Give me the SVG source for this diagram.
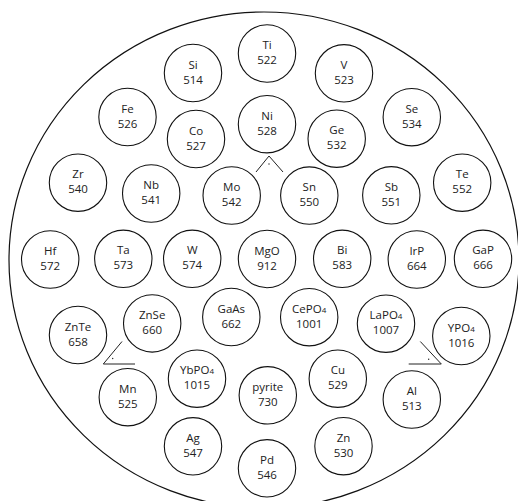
<svg xmlns="http://www.w3.org/2000/svg" width="518" height="501" viewBox="0 0 518 501">
<style>
.bg{fill:#fff}
.outer{fill:none;stroke:#111;stroke-width:1.2}
.n circle{fill:#fff;stroke:#111;stroke-width:1.1}
.n text{font-family:"Open Sans","Noto Sans","Liberation Sans",sans-serif;font-size:11.5px;fill:#222;text-anchor:middle}
.s{font-size:8px}
.mk{fill:none;stroke:#222;stroke-width:1}
.dot{fill:#222}
</style>
<rect class="bg" x="0" y="0" width="518" height="501"/>
<ellipse class="outer" cx="264" cy="260" rx="255" ry="248"/>
<g id="nodes">
<g id="Ti" class="n"><circle cx="267" cy="53.5" r="28.7"/><text x="267" y="49">Ti</text><text x="267" y="64">522</text></g>
<g id="Si" class="n"><circle cx="193" cy="73" r="28.7"/><text x="193" y="68.5">Si</text><text x="193" y="83.5">514</text></g>
<g id="V" class="n"><circle cx="344" cy="73.3" r="28.7"/><text x="344" y="69">V</text><text x="344" y="84">523</text></g>
<g id="Fe" class="n"><circle cx="127.5" cy="117" r="28.7"/><text x="127.5" y="112.5">Fe</text><text x="127.5" y="127.5">526</text></g>
<g id="Co" class="n"><circle cx="196" cy="139" r="28.7"/><text x="196" y="134.5">Co</text><text x="196" y="149.5">527</text></g>
<g id="Ni" class="n"><circle cx="267" cy="124.2" r="28.7"/><text x="267" y="119.7">Ni</text><text x="267" y="134.7">528</text></g>
<g id="Ge" class="n"><circle cx="336.7" cy="138.7" r="28.7"/><text x="336.7" y="134.2">Ge</text><text x="336.7" y="149.2">532</text></g>
<g id="Se" class="n"><circle cx="411.8" cy="117.2" r="28.7"/><text x="411.8" y="112.7">Se</text><text x="411.8" y="127.7">534</text></g>
<g id="Zr" class="n"><circle cx="78" cy="182.7" r="28.7"/><text x="78" y="178.2">Zr</text><text x="78" y="193.2">540</text></g>
<g id="Nb" class="n"><circle cx="151.2" cy="193.5" r="28.7"/><text x="151.2" y="189">Nb</text><text x="151.2" y="204">541</text></g>
<g id="Mo" class="n"><circle cx="231.7" cy="195.5" r="28.7"/><text x="231.7" y="191">Mo</text><text x="231.7" y="206">542</text></g>
<g id="Sn" class="n"><circle cx="309.3" cy="195.6" r="28.7"/><text x="309.3" y="191.1">Sn</text><text x="309.3" y="206.1">550</text></g>
<g id="Sb" class="n"><circle cx="391.3" cy="195.3" r="28.7"/><text x="391.3" y="190.8">Sb</text><text x="391.3" y="205.8">551</text></g>
<g id="Te" class="n"><circle cx="462.2" cy="182.7" r="28.7"/><text x="462.2" y="178.2">Te</text><text x="462.2" y="193.2">552</text></g>
<g id="Hf" class="n"><circle cx="50.2" cy="259.5" r="28.7"/><text x="50.2" y="255">Hf</text><text x="50.2" y="270">572</text></g>
<g id="Ta" class="n"><circle cx="123.3" cy="258.8" r="28.7"/><text x="123.3" y="254.3">Ta</text><text x="123.3" y="269.3">573</text></g>
<g id="W" class="n"><circle cx="192.2" cy="258.8" r="28.7"/><text x="192.2" y="254.3">W</text><text x="192.2" y="269.3">574</text></g>
<g id="MgO" class="n"><circle cx="267" cy="259" r="28.7"/><text x="267" y="254.5">MgO</text><text x="267" y="269.5">912</text></g>
<g id="Bi" class="n"><circle cx="342.2" cy="258.8" r="28.7"/><text x="342.2" y="254.3">Bi</text><text x="342.2" y="269.3">583</text></g>
<g id="IrP" class="n"><circle cx="416.8" cy="259.5" r="28.7"/><text x="416.8" y="255">IrP</text><text x="416.8" y="270">664</text></g>
<g id="GaP" class="n"><circle cx="483" cy="258.8" r="28.7"/><text x="483" y="254.3">GaP</text><text x="483" y="269.3">666</text></g>
<g id="ZnTe" class="n"><circle cx="78" cy="335" r="28.7"/><text x="78" y="330.5">ZnTe</text><text x="78" y="345.5">658</text></g>
<g id="ZnSe" class="n"><circle cx="152.2" cy="323.4" r="28.7"/><text x="152.2" y="318.9">ZnSe</text><text x="152.2" y="333.9">660</text></g>
<g id="GaAs" class="n"><circle cx="231.3" cy="317" r="28.7"/><text x="231.3" y="312.5">GaAs</text><text x="231.3" y="327.5">662</text></g>
<g id="CePO4" class="n"><circle cx="309.2" cy="317.2" r="28.7"/><text x="309.2" y="312.7">CePO<tspan class="s">4</tspan></text><text x="309.2" y="327.7">1001</text></g>
<g id="LaPO4" class="n"><circle cx="386" cy="323.7" r="28.7"/><text x="386" y="319.2">LaPO<tspan class="s">4</tspan></text><text x="386" y="334.2">1007</text></g>
<g id="YPO4" class="n"><circle cx="461.3" cy="336" r="28.7"/><text x="461.3" y="331.5">YPO<tspan class="s">4</tspan></text><text x="461.3" y="346.5">1016</text></g>
<g id="Mn" class="n"><circle cx="127.8" cy="397.2" r="28.7"/><text x="127.8" y="392.7">Mn</text><text x="127.8" y="407.7">525</text></g>
<g id="YbPO4" class="n"><circle cx="197" cy="378.7" r="28.7"/><text x="197" y="374.2">YbPO<tspan class="s">4</tspan></text><text x="197" y="389.2">1015</text></g>
<g id="pyrite" class="n"><circle cx="267.8" cy="395.3" r="28.7"/><text x="267.8" y="390.8">pyrite</text><text x="267.8" y="405.8">730</text></g>
<g id="Cu" class="n"><circle cx="337.8" cy="378.7" r="28.7"/><text x="337.8" y="374.2">Cu</text><text x="337.8" y="389.2">529</text></g>
<g id="Al" class="n"><circle cx="411.8" cy="399.5" r="28.7"/><text x="411.8" y="395">Al</text><text x="411.8" y="410">513</text></g>
<g id="Ag" class="n"><circle cx="193" cy="446.3" r="28.7"/><text x="193" y="441.8">Ag</text><text x="193" y="456.8">547</text></g>
<g id="Zn" class="n"><circle cx="343.5" cy="446.2" r="28.7"/><text x="343.5" y="441.7">Zn</text><text x="343.5" y="456.7">530</text></g>
<g id="Pd" class="n"><circle cx="267" cy="468.3" r="28.7"/><text x="267" y="463.8">Pd</text><text x="267" y="478.8">546</text></g>
</g>
<g id="markers">
<polyline class="mk" points="256,172 269,156 283,172"/>
<circle class="dot" cx="269" cy="164" r="0.7"/>
<polyline class="mk" points="122,341.5 103.3,364 135,364"/>
<circle class="dot" cx="112.7" cy="358.5" r="0.7"/>
<polyline class="mk" points="420.3,341.5 441.3,364 408.7,364"/>
<circle class="dot" cx="428.7" cy="359.3" r="0.7"/>
</g>
</svg>
